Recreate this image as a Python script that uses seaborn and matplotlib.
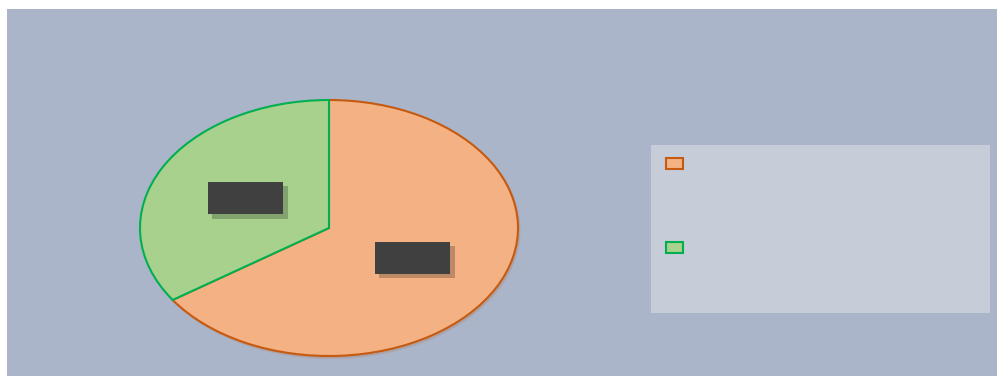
import matplotlib
matplotlib.use("Agg")
import matplotlib.pyplot as plt
import matplotlib.patheffects as pe
from matplotlib.patches import Rectangle
import seaborn as sns

categories = ["Series A", "Series B"]
values = [65.5, 34.5]
fill_colors = ["#f4b183", "#a9d18e"]
edge_colors = ["#c55a11", "#00b050"]

sns.set_theme(style="white")
plt.rcParams["font.family"] = ["DejaVu Sans"]

W, H = 998, 377
fig = plt.figure(figsize=(W / 100, H / 100), dpi=100)
fig.patch.set_facecolor("white")

# chart area background
fig.patches.append(Rectangle((7 / W, 1 / H), 990 / W, 367 / H, transform=fig.transFigure,
                             facecolor="#abb5c9", edgecolor="none", zorder=-2))
# legend background
fig.patches.append(Rectangle((651 / W, (H - 313) / H), 339 / W, 168 / H, transform=fig.transFigure,
                             facecolor="#c6cdd9", edgecolor="none", zorder=-1))

ax = fig.add_axes([140 / W, (H - 356) / H, 378 / W, 256 / H])
ax.set_zorder(2)
ax.set_facecolor("none")

wedges, texts, autotexts = ax.pie(
    values, colors=fill_colors, startangle=90, counterclock=False,
    autopct="%1.1f%%", pctdistance=0.5, labels=None,
    wedgeprops=dict(linewidth=1.5),
    textprops=dict(fontsize=14, color="#404040"),
    shadow=dict(ox=0.006, oy=-0.012, shade=0.3, alpha=0.2),
)
for w, ec in zip(wedges, edge_colors):
    w.set_edgecolor(ec)
for t in autotexts:
    t.set_bbox(dict(boxstyle="square,pad=0.35", facecolor="#404040", edgecolor="none"))
    t.get_bbox_patch().set_path_effects([
        pe.SimplePatchShadow(offset=(3, -3), shadow_rgbFace="black", alpha=0.22),
        pe.Normal()])

ax.set_aspect("auto")
ax.set_xlim(-1, 1)
ax.set_ylim(-1, 1)
ax.axis("off")

leg = fig.legend(wedges, [" ", " "], loc="upper left",
                 bbox_to_anchor=(648 / W, (H - 139) / H), frameon=False,
                 handlelength=1.2, handleheight=0.8, labelspacing=5.05,
                 borderpad=0.8, fontsize=10)
leg.set_zorder(5)
for h, ec in zip(leg.legend_handles, edge_colors):
    h.set_edgecolor(ec)
    h.set_linewidth(1.5)

fig.savefig("out.png", dpi=100)
